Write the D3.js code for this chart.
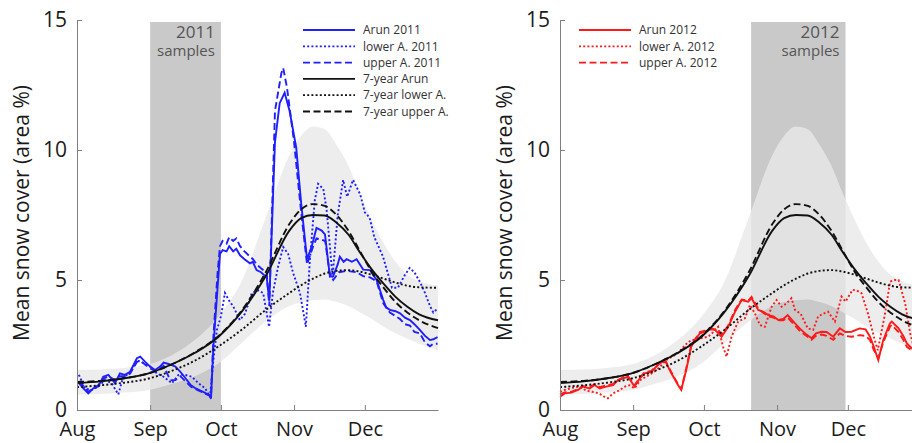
<!DOCTYPE html>
<html>
<head>
<meta charset="utf-8">
<title>Mean snow cover</title>
<style>
  body { margin: 0; background: #fff; }
  svg { display: block; font-family: "Open Sans", sans-serif; }
  .axis path, .axis line { stroke: #808080; stroke-width: 1px; }
  .axis text { font-size: 21px; fill: #1a1a1a; font-family: "Open Sans", sans-serif; }
  .xaxis text { font-size: 20px; }
  .ylabel { font-size: 21px; fill: #1a1a1a; }
  .legend text { font-size: 12px; fill: #333; }
  .boxlabel { fill: #555; }
  .line { fill: none; stroke-width: 1.9px; }
</style>
</head>
<body>
<script src="https://cdn.jsdelivr.net/npm/d3@7"></script>
<script>

// x values are days after Aug 1, y values are snow cover (area %)
var monthLabels = ["Aug", "Sep", "Oct", "Nov", "Dec"];
var yTicks = [0, 5, 10, 15];

// 7-year climatology (same in both panels)
var climDays = [0, 10, 20, 30, 40, 50, 60, 70, 80, 90, 95, 100, 105, 110, 115, 120, 125, 130, 135, 140, 145, 153];
var arun7  = [1.04, 1.1, 1.22, 1.4, 1.75, 2.2, 2.82, 3.8, 5.15, 6.9, 7.38, 7.5, 7.48, 7.2, 6.75, 6.05, 5.4, 4.85, 4.35, 3.97, 3.68, 3.45];
var upper7 = [1.08, 1.12, 1.22, 1.4, 1.75, 2.22, 2.85, 3.85, 5.3, 7.15, 7.72, 7.92, 7.85, 7.5, 6.9, 6.1, 5.3, 4.7, 4.15, 3.75, 3.45, 3.15];
var lower7 = [0.88, 0.95, 1.05, 1.2, 1.5, 1.9, 2.45, 3.1, 3.85, 4.5, 4.8, 5.05, 5.25, 5.35, 5.38, 5.32, 5.2, 5.05, 4.9, 4.78, 4.72, 4.7];
var envHigh = [1.54, 1.56, 1.62, 1.75, 2.1, 2.7, 3.6, 5.0, 7.4, 9.8, 10.55, 10.9, 10.8, 10.2, 9.4, 8.3, 7.3, 6.4, 5.7, 5.2, 4.95, 4.8];
var envLow  = [0.6, 0.62, 0.67, 0.76, 1.0, 1.3, 1.8, 2.6, 3.4, 4.0, 4.15, 4.22, 4.25, 4.15, 4.0, 3.75, 3.5, 3.2, 2.95, 2.75, 2.55, 2.3];

// 2011
var arun2011 = [[0.8,1.03],[2.5,0.85],[4.8,0.64],[6.9,0.83],[9,0.9],[11.1,1.28],[13.3,1.35],[16.1,1.03],[18.2,1.41],[20.3,1.35],[22.5,1.47],[25.4,1.99],[26.8,2.05],[28.8,1.86],[31,1.67],[33.1,1.54],[35.2,1.67],[36.7,1.82],[38.8,1.77],[41.7,1.67],[43.8,1.47],[46,1.22],[48.2,0.96],[50.3,0.83],[53.2,0.71],[56.1,0.58],[56.8,0.45],[57.8,2.44],[59.6,4.74],[60.6,6.0],[61.7,6.15],[63.4,6.1],[64.5,6.3],[66.2,6.1],[67.5,6.2],[69.1,5.95],[71,5.8],[73.3,5.64],[74.5,5.7],[76.1,5.38],[78,5.3],[80.4,5.1],[81.5,4.2],[83.9,10.3],[85.9,11.8],[88,12.2],[90.1,11.5],[92.9,10.1],[95,7.96],[97.5,5.8],[99.5,6.3],[101.5,7.0],[103.7,6.9],[105.1,6.75],[107.2,5.13],[108.6,5.15],[110.5,5.6],[111.4,5.9],[113,5.7],[114.3,5.8],[116.5,5.7],[118.5,5.8],[121.3,5.4],[124.2,5.38],[127,5.0],[129.8,4.23],[131,3.95],[132.6,3.85],[135,3.8],[136.9,3.72],[139,3.55],[141.1,3.46],[143,3.3],[145.3,3.08],[147.5,2.85],[149.6,2.69],[151,2.72],[152.8,2.8]];
var lower2011 = [[0.8,1.35],[3.4,0.83],[6.2,0.77],[9,0.9],[11.9,1.15],[14.7,1.03],[17.5,0.6],[19.6,1.28],[22.5,1.41],[25.4,1.92],[28.2,1.8],[31,1.67],[33.8,1.41],[36.7,1.28],[40.2,1.03],[43,1.35],[45.8,1.35],[48.7,1.28],[51.5,1.03],[54.3,0.83],[56.4,0.51],[57.8,1.92],[59.3,3.08],[61,3.6],[62.7,4.5],[64.5,4.2],[66.3,3.97],[69,3.46],[71.2,3.7],[74.1,4.5],[76.8,4.6],[78.9,4.5],[81.4,3.2],[83,4.5],[85.2,5.5],[87.4,6.27],[89.5,6.0],[91.6,5.27],[94.5,4.5],[97,3.2],[98.7,5.77],[100.8,8.08],[102.2,8.7],[104.4,8.5],[105.8,7.7],[107.2,6.27],[108.3,5.1],[110.5,7.5],[112.8,8.85],[114.5,8.2],[117,8.85],[120,8.3],[122,7.6],[124,7.4],[126,6.65],[129.7,5.9],[133.5,4.7],[136,4.7],[139,5.2],[141,5.46],[143,5.3],[145.5,4.9],[147.5,4.5],[149.6,4.0],[151,3.75],[152.8,3.9]];
var upper2011 = [[0.8,1.1],[2.5,0.95],[4.8,0.7],[6.9,0.85],[9,0.95],[11.1,1.2],[13.3,1.3],[16.1,1.15],[18.2,1.3],[20.3,1.3],[22.5,1.4],[25.4,1.85],[26.8,1.9],[28.8,1.75],[31,1.6],[33.1,1.5],[35.2,1.6],[36.7,1.7],[39.5,1.15],[41.7,1.15],[43.8,1.3],[46,1.1],[48.2,0.9],[50.3,0.8],[53.2,0.68],[56.1,0.55],[56.8,0.5],[57.8,2.8],[59.6,5.3],[60.6,6.3],[61.7,6.5],[63.4,6.4],[64.5,6.65],[66.2,6.5],[67.5,6.6],[69.1,6.3],[71,6.1],[73.3,5.9],[74.6,5.8],[76.1,5.6],[78,5.45],[80.4,5.27],[81.5,4.0],[83.9,11.5],[86.6,12.95],[87.4,13.15],[89,12.4],[92,10.3],[94.9,7.7],[97.5,5.6],[100,6.27],[101.5,6.6],[103.7,6.55],[105.2,6.5],[107,5.3],[108.6,5.0],[111,5.3],[114.3,5.35],[118.5,5.3],[121.3,5.15],[124.2,5.1],[127,4.95],[129.8,4.1],[132.6,3.75],[136.9,3.5],[139,3.3],[141.1,3.25],[143,3.0],[145.3,2.95],[147.5,2.6],[149.6,2.45],[151,2.55],[152.8,2.55]];

// 2012
var arun2012 = [[0,0.51],[2,0.64],[4.8,0.67],[7.6,0.77],[9.7,0.9],[12.6,0.83],[14.7,0.96],[16.8,0.83],[19.6,0.9],[22.5,0.96],[24.6,1.15],[26.7,1.22],[28.8,1.28],[31.6,0.9],[33.8,1.22],[35.9,1.41],[38.7,1.47],[41.5,1.73],[44.4,1.92],[47.2,1.41],[50,0.96],[51.4,0.77],[53.5,1.54],[55.6,2.43],[57.8,2.76],[59.3,2.95],[61.4,3.01],[63.5,3.1],[65.7,3.08],[68.5,2.82],[71.3,3.2],[74.2,3.78],[77,4.23],[79.8,4.17],[81.2,4.3],[84,3.85],[86,3.78],[88.3,3.65],[90.5,3.6],[92.5,3.46],[94.6,3.5],[96.5,3.65],[99.6,3.33],[102,3.1],[104.5,2.9],[106.6,2.76],[108.5,2.95],[110.8,3.01],[113,3.0],[115.8,2.82],[118.6,3.14],[121,3.0],[123.6,3.01],[127,3.14],[129.5,3.1],[131.4,2.82],[133,2.43],[134.9,1.92],[137,2.69],[139.8,3.33],[140.6,3.4],[143.5,3.14],[145.5,2.85],[147,2.56],[149.1,2.37],[151,2.3],[153,2.25]];
var lower2012 = [[0,0.7],[2,0.77],[5,0.85],[8,0.9],[11,0.75],[13.5,0.7],[16.5,0.64],[19,0.5],[20.3,0.45],[22.5,0.64],[25,0.75],[27.5,0.9],[29.5,0.95],[31.6,0.83],[34,1.15],[36.5,1.28],[40,1.47],[42.5,1.67],[45,1.92],[47.5,2.05],[50,2.18],[53,2.5],[55.6,2.69],[57.2,2.69],[59.5,2.75],[62.8,2.82],[65,3.0],[67,3.2],[69.1,2.43],[70.6,2.05],[72.7,2.82],[75.5,3.4],[78.4,3.53],[80.5,4.04],[82.6,3.72],[84.7,3.27],[86.8,3.2],[89.7,3.97],[91.8,4.23],[93.9,3.97],[96,4.1],[98.1,4.3],[99.6,3.85],[102,3.7],[105,3.14],[107.3,3.08],[109.4,3.6],[111.5,3.7],[113.6,3.78],[116.5,3.4],[119.3,4.36],[121,4.17],[124,4.62],[125.7,4.6],[127.8,4.49],[130.5,3.72],[133.4,2.69],[134.7,2.3],[136,2.9],[137.8,3.72],[139.9,4.94],[142,5.0],[143.5,5.0],[146.3,4.1],[148.4,2.95],[150,2.4],[152,2.3]];
var upper2012 = [[0,0.6],[2,0.68],[4.8,0.7],[7.6,0.8],[9.7,0.92],[12.6,0.88],[14.7,1.0],[16.8,0.88],[19.6,0.95],[22.5,1.0],[24.6,1.15],[26.7,1.25],[28.8,1.3],[31.6,0.95],[33.8,1.25],[35.9,1.45],[38.7,1.5],[41.5,1.75],[44.4,1.95],[47.2,1.45],[50,1.0],[51.4,0.8],[53.5,1.6],[55.6,2.5],[57.8,2.8],[59.3,3.0],[61.4,3.05],[63.5,3.15],[65.7,3.1],[68.5,2.9],[71.3,3.25],[74.2,3.85],[77,4.25],[79.8,4.2],[81.2,4.35],[84,3.9],[86,3.75],[88.3,3.6],[90.5,3.55],[92.5,3.45],[94.6,3.45],[96.5,3.55],[99.6,3.25],[102,3.0],[104.5,2.85],[106.6,2.7],[108.5,2.85],[110.8,2.9],[113,2.85],[115.8,2.7],[118.6,2.95],[121,2.85],[123.6,2.82],[127,2.88],[129.5,2.85],[131.4,2.69],[133,2.3],[134.9,2.0],[137,2.6],[139.8,3.2],[140.6,3.27],[143.5,3.0],[145.5,2.7],[147,2.43],[149.1,2.3],[151,2.2],[153,2.15]];

// sample windows: [start day, end day]
var samples2011 = [31, 61];
var samples2012 = [81, 121];

var legend2011 = ["Arun 2011", "lower A. 2011", "upper A. 2011", "7-year Arun", "7-year lower A.", "7-year upper A."];
var legend2012 = ["Arun 2012", "lower A. 2012", "upper A. 2012"];

var width = 912, height = 443;
var plotW = 361, plotTop = 20, plotBottom = 410;
var dashes = { solid: null, dotted: "2,2.2", dashed: "7,3.5" };

var svg = d3.select("body").append("svg")
    .attr("width", width)
    .attr("height", height);

var y = d3.scaleLinear().domain([0, 15]).range([plotBottom, plotTop]);

function drawPanel(p) {
  var start = new Date(p.year, 7, 1), end = new Date(p.year + 1, 0, 1);
  var x = d3.scaleTime().domain([start, end]).range([p.x0, p.x0 + plotW]);
  var toDate = function(day) { return new Date(start.getTime() + day * 864e5); };

  var g = svg.append("g");

  // grey sample box
  g.append("rect")
      .attr("x", x(toDate(p.box[0])))
      .attr("y", 22)
      .attr("width", x(toDate(p.box[1])) - x(toDate(p.box[0])))
      .attr("height", plotBottom - 22)
      .attr("fill", "#c9c9c9");

  // 7-year spread
  var env = climDays.map(function(d, i) { return {day: d, lo: envLow[i], hi: envHigh[i]}; });
  g.append("path")
      .datum(env)
      .attr("fill", "#e8e8e8")
      .attr("fill-opacity", 0.8)
      .attr("d", d3.area()
          .curve(d3.curveMonotoneX)
          .x(function(d) { return x(toDate(d.day)); })
          .y0(function(d) { return y(d.lo); })
          .y1(function(d) { return y(d.hi); }));

  var bx = x(toDate(p.box[1])) - 6;
  g.append("text").attr("class", "boxlabel")
      .attr("x", bx).attr("y", 38)
      .attr("text-anchor", "end").style("font-size", "17px")
      .text(String(p.year));
  g.append("text").attr("class", "boxlabel")
      .attr("x", bx).attr("y", 56)
      .attr("text-anchor", "end").style("font-size", "15px")
      .text("samples");

  var raw = d3.line()
      .x(function(d) { return x(toDate(d[0])); })
      .y(function(d) { return y(d[1]); });
  var smooth = d3.line()
      .curve(d3.curveMonotoneX)
      .x(function(d) { return x(toDate(d[0])); })
      .y(function(d) { return y(d[1]); });

  p.series.forEach(function(s) {
    g.append("path")
        .datum(s.data)
        .attr("class", "line")
        .attr("stroke", p.color)
        .attr("stroke-dasharray", dashes[s.style])
        .attr("d", raw);
  });

  var clim = [[arun7, "solid"], [lower7, "dotted"], [upper7, "dashed"]];
  clim.forEach(function(c) {
    g.append("path")
        .datum(climDays.map(function(d, i) { return [d, c[0][i]]; }))
        .attr("class", "line")
        .attr("stroke", "#111")
        .attr("stroke-width", 1.9)
        .attr("stroke-dasharray", dashes[c[1]])
        .attr("d", smooth);
  });

  // axes
  g.append("g")
      .attr("class", "axis xaxis")
      .attr("transform", "translate(0," + plotBottom + ")")
      .call(d3.axisBottom(x)
          .tickValues(d3.timeMonth.range(start, end))
          .tickFormat(function(d, i) { return monthLabels[i]; })
          .tickSizeInner(-5).tickSizeOuter(0).tickPadding(12));

  g.append("g")
      .attr("class", "axis")
      .attr("transform", "translate(" + p.x0 + ",0)")
      .call(d3.axisLeft(y)
          .tickValues(yTicks)
          .tickSizeInner(-5).tickSizeOuter(0).tickPadding(10));

  g.append("text")
      .attr("class", "ylabel")
      .attr("transform", "translate(" + (p.x0 - 48) + "," + ((plotTop + plotBottom) / 2 - 2) + ")rotate(-90)")
      .attr("text-anchor", "middle")
      .text("Mean snow cover (area %)");

  // legend
  var lg = g.append("g").attr("class", "legend");
  var styles = ["solid", "dotted", "dashed", "solid", "dotted", "dashed"];
  p.legend.forEach(function(label, i) {
    var ly = 30 + i * 16.3;
    lg.append("line")
        .attr("x1", p.legendX).attr("x2", p.legendX + 52)
        .attr("y1", ly).attr("y2", ly)
        .attr("stroke", i < 3 ? p.color : "#111")
        .attr("stroke-width", 1.8)
        .attr("stroke-dasharray", dashes[styles[i]]);
    lg.append("text")
        .attr("x", p.legendX + 60).attr("y", ly)
        .attr("dy", "0.35em")
        .text(label);
  });
}

drawPanel({
  year: 2011, x0: 77, color: "#1f1fff", box: samples2011,
  legend: legend2011, legendX: 303,
  series: [
    {data: arun2011, style: "solid"},
    {data: lower2011, style: "dotted"},
    {data: upper2011, style: "dashed"}
  ]
});

drawPanel({
  year: 2012, x0: 560, color: "#ff1a1a", box: samples2012,
  legend: legend2012, legendX: 579,
  series: [
    {data: arun2012, style: "solid"},
    {data: lower2012, style: "dotted"},
    {data: upper2012, style: "dashed"}
  ]
});

</script>
</body>
</html>
